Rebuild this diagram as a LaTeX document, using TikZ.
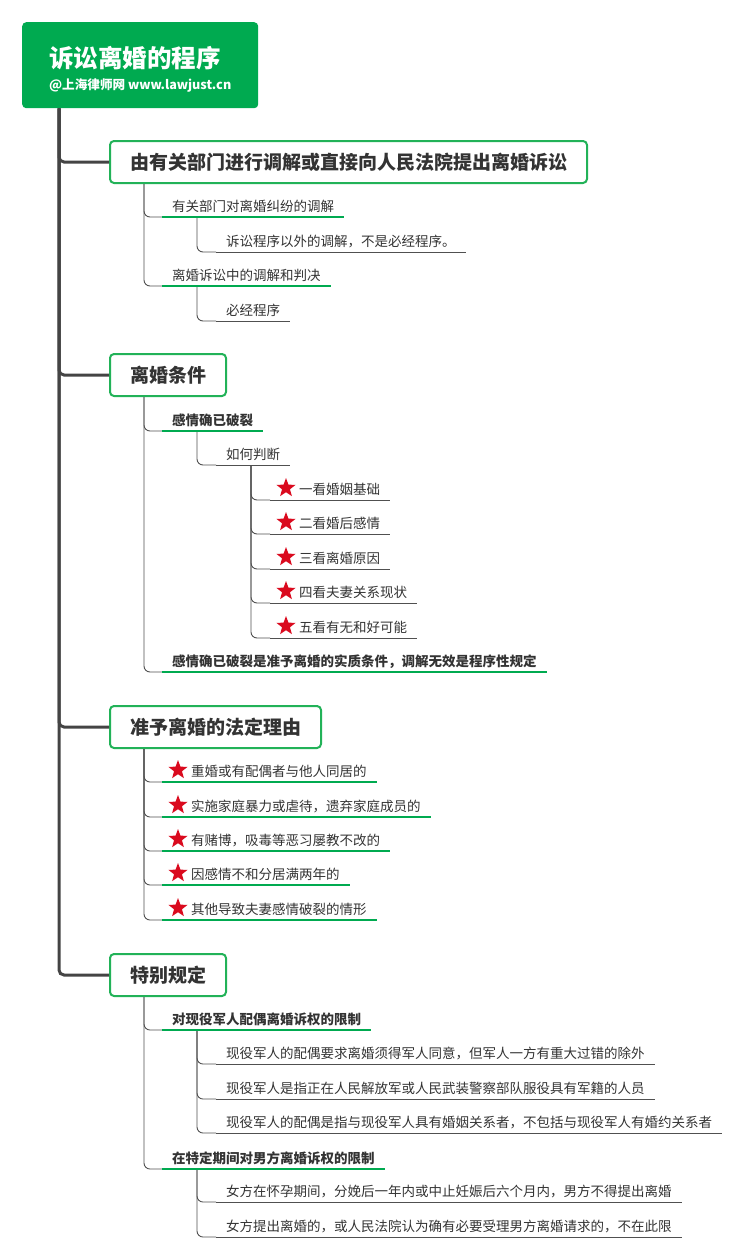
\documentclass[tikz,border=0pt]{standalone}
\usepackage{fontspec}
\setmainfont{Noto Sans CJK SC}
\usetikzlibrary{shapes.geometric}
\definecolor{rootgreen}{RGB}{0,170,80}
\definecolor{gborder}{RGB}{34,178,88}
\definecolor{glinec}{RGB}{0,170,80}
\definecolor{dk}{RGB}{80,80,80}
\definecolor{tk}{RGB}{68,68,68}
\definecolor{txt}{RGB}{51,51,51}
\definecolor{starred}{RGB}{218,10,30}
\newcommand\itemfont{\fontsize{13.5}{16}\selectfont}
\newcommand\bitemfont{\fontsize{13.5}{16}\selectfont\bfseries}
\newcommand\secfont{\fontsize{19}{22}\selectfont\bfseries}
\tikzset{
  rootbox/.style={anchor=north west, fill=rootgreen, rounded corners=4pt, minimum width=236pt, minimum height=86pt, inner xsep=25pt, align=left, text=white, font={\fontsize{12.6}{22}\selectfont\bfseries}},
  secbox/.style={anchor=west, draw=gborder, line width=2pt, rounded corners=4pt, fill=white, minimum height=42pt, inner xsep=20pt, font=\secfont, text=txt},
  itembox/.style={anchor=south west, inner xsep=10pt, inner ysep=0pt, text height=10pt, text depth=5pt, font=\itemfont, text=txt},
  bitembox/.style={itembox, font=\bitemfont},
  gul/.style={draw=glinec, line width=1.3pt},
  dul/.style={draw=dk, line width=0.9pt},
  conn/.style={draw=dk, line width=0.9pt, rounded corners=6pt},
  trunk/.style={draw=tk, line width=3pt, rounded corners=5pt},
  starnode/.style={star, star points=5, star point ratio=2.4, fill=starred, draw=none, minimum size=20pt, inner sep=0pt}
}
\begin{document}
\begin{tikzpicture}[x=1pt,y=-1pt]
\path[use as bounding box] (0,0) rectangle (745,1258);
% root
\node[rootbox] (root) at (22,22) {{\fontsize{24.5}{22}\selectfont\rule{0pt}{29pt}诉讼离婚的程序}\\@上海律师网 www.lawjust.cn};
% sections
\node[secbox] (s1) at (109,162) {由有关部门进行调解或直接向人民法院提出离婚诉讼};
\node[secbox] (s2) at (109,375) {离婚条件};
\node[secbox] (s3) at (109,727) {准予离婚的法定理由};
\node[secbox] (s4) at (109,975) {特别规定};
\foreach \s in {s1,s2,s3,s4}
  \draw[trunk] ([xshift=37pt]root.south west) |- (\s.west);
% section 1
\node[itembox] (a1) at (162,217) {有关部门对离婚纠纷的调解};
\node[itembox] (a1a) at (216,252) {诉讼程序以外的调解，不是必经程序。};
\node[itembox] (a2) at (162,286) {离婚诉讼中的调解和判决};
\node[itembox] (a2a) at (216,321) {必经程序};
% section 2
\node[bitembox] (b1) at (162,431) {感情确已破裂};
\node[itembox] (b1a) at (216,465) {如何判断};
\node[itembox] (q1) at (270,500) {\hspace*{19pt}一看婚姻基础};
\node[itembox] (q2) at (270,534) {\hspace*{19pt}二看婚后感情};
\node[itembox] (q3) at (270,569) {\hspace*{19pt}三看离婚原因};
\node[itembox] (q4) at (270,603) {\hspace*{19pt}四看夫妻关系现状};
\node[itembox] (q5) at (270,638) {\hspace*{19pt}五看有无和好可能};
\node[bitembox] (b2) at (162,672) {感情确已破裂是准予离婚的实质条件，调解无效是程序性规定};
% section 3
\node[itembox] (r1) at (162,782) {\hspace*{19pt}重婚或有配偶者与他人同居的};
\node[itembox] (r2) at (162,817) {\hspace*{19pt}实施家庭暴力或虐待，遗弃家庭成员的};
\node[itembox] (r3) at (162,851) {\hspace*{19pt}有赌博，吸毒等恶习屡教不改的};
\node[itembox] (r4) at (162,885) {\hspace*{19pt}因感情不和分居满两年的};
\node[itembox] (r5) at (162,920) {\hspace*{19pt}其他导致夫妻感情破裂的情形};
% section 4
\node[bitembox] (c1) at (162,1030) {对现役军人配偶离婚诉权的限制};
\node[itembox] (c1a) at (216,1064) {现役军人的配偶要求离婚须得军人同意，但军人一方有重大过错的除外};
\node[itembox] (c1b) at (216,1099) {现役军人是指正在人民解放军或人民武装警察部队服役具有军籍的人员};
\node[itembox] (c1c) at (216,1133) {现役军人的配偶是指与现役军人具有婚姻关系者，不包括与现役军人有婚约关系者};
\node[bitembox] (c2) at (162,1169) {在特定期间对男方离婚诉权的限制};
\node[itembox] (c2a) at (216,1202) {女方在怀孕期间，分娩后一年内或中止妊娠后六个月内，男方不得提出离婚};
\node[itembox] (c2b) at (216,1237) {女方提出离婚的，或人民法院认为确有必要受理男方离婚请求的，不在此限};
% connectors
\foreach \p/\c in {s1/a1,s1/a2,a1/a1a,a2/a2a,s2/b1,s2/b2,b1/b1a,b1a/q1,b1a/q2,b1a/q3,b1a/q4,b1a/q5,s3/r1,s3/r2,s3/r3,s3/r4,s3/r5,s4/c1,s4/c2,c1/c1a,c1/c1b,c1/c1c,c2/c2a,c2/c2b}
  \draw[conn] ([xshift=35pt]\p.south west) |- (\c.south west);
% underlines
\foreach \n in {a1,a2,b1,b2,r1,r2,r3,r4,r5,c1,c2}
  \draw[gul] (\n.south west) -- (\n.south east);
\foreach \n in {a1a,a2a,b1a,q1,q2,q3,q4,q5,c1a,c1b,c1c,c2a,c2b}
  \draw[dul] (\n.south west) -- (\n.south east);
% stars
\foreach \n in {q1,q2,q3,q4,q5,r1,r2,r3,r4,r5}
  \node[starnode] (st\n) at ([xshift=16pt,yshift=12pt]\n.south west) {};
\end{tikzpicture}
\end{document}
